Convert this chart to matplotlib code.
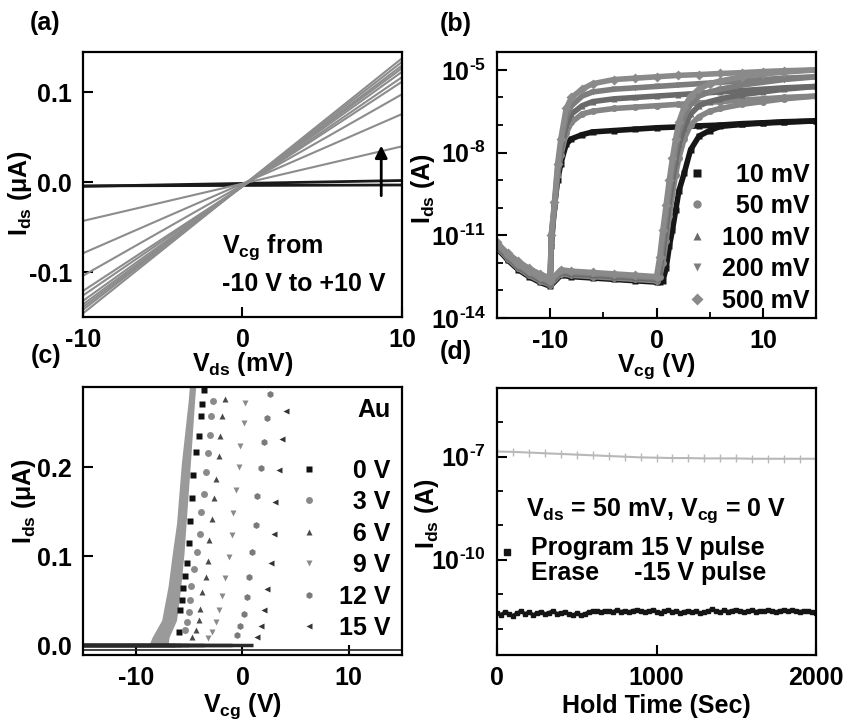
import math
import matplotlib
matplotlib.use('Agg')
import matplotlib.pyplot as plt
from matplotlib.lines import Line2D
from matplotlib.ticker import FixedLocator, FuncFormatter, NullFormatter

plt.rcParams['font.family'] = ['Liberation Sans', 'DejaVu Sans']
plt.rcParams['font.weight'] = 'bold'
plt.rcParams['axes.labelweight'] = 'bold'
plt.rcParams['font.size'] = 18
plt.rcParams['axes.unicode_minus'] = False
plt.rcParams['mathtext.fontset'] = 'custom'
for k in ['rm', 'it', 'bf', 'sf']:
    plt.rcParams['mathtext.' + k] = 'Liberation Sans:bold'
plt.rcParams['mathtext.default'] = 'bf'

# ---------------- data ----------------
# (a) output curves, current (uA) at Vds = -10 mV and +10 mV, one per gate step
a_vds = [-10, 10]
a_i_neg = [-0.0045, -0.004, -0.043, -0.079, -0.104, -0.121, -0.126, -0.132, -0.136, -0.139, -0.142, -0.146]
a_i_pos = [0.002, -0.003, 0.040, 0.076, 0.098, 0.112, 0.117, 0.123, 0.127, 0.130, 0.134, 0.138]
a_dark = [True, True, False, False, False, False, False, False, False, False, False, False]

# (b) transfer curves, log10(Ids / A)
b_labels = ['10 mV', '50 mV', '100 mV', '200 mV', '500 mV']
fwd_vcg = [-15, -14, -13, -12, -11, -10, -9, -8, -6, -4, -2, 0, 0.3, 0.6, 0.9, 1.2, 1.5, 1.8,
           2.1, 2.6, 3.2, 4.0, 5.0, 6.0, 8.0, 10.0, 12.0, 15.0]
fwd_log = {
    '10 mV': [-11.45, -11.9, -12.25, -12.5, -12.7, -12.85, -12.45, -12.5, -12.55, -12.6, -12.65, -12.7,
              -12.7, -12.65, -12.2, -11.4, -10.8, -10.1, -9.4, -8.75, -7.9, -7.4, -7.2, -7.05, -6.98,
              -6.93, -6.9, -6.85],
    '50 mV': [-11.4, -11.85, -12.2, -12.45, -12.65, -12.8, -12.4, -12.45, -12.5, -12.55, -12.6, -12.65,
              -12.5, -12.0, -11.2, -10.3, -9.5, -8.8, -8.2, -7.5, -7.0, -6.7, -6.5, -6.4, -6.25,
              -6.15, -6.05, -5.95],
    '100 mV': [-11.35, -11.8, -12.15, -12.4, -12.6, -12.75, -12.35, -12.4, -12.45, -12.5, -12.55, -12.6,
               -12.3, -11.6, -10.7, -9.8, -9.0, -8.3, -7.7, -7.1, -6.6, -6.3, -6.15, -6.05, -5.9,
               -5.8, -5.7, -5.6],
    '200 mV': [-11.3, -11.75, -12.1, -12.35, -12.55, -12.7, -12.3, -12.35, -12.4, -12.45, -12.5, -12.55,
               -12.1, -11.2, -10.3, -9.4, -8.6, -7.9, -7.3, -6.7, -6.25, -5.95, -5.8, -5.7, -5.55,
               -5.45, -5.35, -5.25],
    '500 mV': [-11.25, -11.7, -12.05, -12.3, -12.5, -12.65, -12.25, -12.3, -12.35, -12.4, -12.45, -12.5,
               -11.8, -10.8, -9.9, -9.0, -8.2, -7.5, -6.9, -6.35, -5.95, -5.7, -5.5, -5.4, -5.25,
               -5.15, -5.08, -5.0],
}
rev_vcg = [15, 12, 10, 8, 6, 4, 2, 0, -2, -4, -6, -7, -8, -8.5, -9, -9.3, -9.6, -9.9, -10,
           -11, -12, -13, -14, -15]
rev_log = {
    '10 mV': [-6.85, -6.88, -6.92, -6.95, -7.0, -7.03, -7.07, -7.1, -7.15, -7.2, -7.25, -7.35, -7.5,
              -7.7, -8.4, -9.0, -9.95, -11.4, -12.75, -12.6, -12.4, -12.15, -11.85, -11.5],
    '50 mV': [-5.95, -6.0, -6.05, -6.1, -6.15, -6.2, -6.25, -6.3, -6.35, -6.4, -6.5, -6.6, -6.9,
              -7.3, -8.1, -8.8, -10.0, -11.2, -12.7, -12.55, -12.35, -12.1, -11.8, -11.45],
    '100 mV': [-5.6, -5.65, -5.7, -5.75, -5.8, -5.85, -5.9, -5.95, -6.0, -6.05, -6.15, -6.3, -6.6,
               -7.0, -7.9, -8.7, -10.0, -11.1, -12.65, -12.5, -12.3, -12.05, -11.75, -11.4],
    '200 mV': [-5.25, -5.3, -5.35, -5.4, -5.45, -5.5, -5.55, -5.6, -5.65, -5.7, -5.8, -5.95, -6.3,
               -6.7, -7.7, -8.6, -9.9, -11.0, -12.6, -12.45, -12.25, -12.0, -11.7, -11.35],
    '500 mV': [-5.0, -5.03, -5.06, -5.1, -5.13, -5.17, -5.2, -5.25, -5.3, -5.35, -5.5, -5.7, -6.0,
               -6.4, -7.5, -8.4, -9.8, -11.0, -12.55, -12.4, -12.2, -11.95, -11.65, -11.3],
}
b_markers = ['s', 'o', '^', 'v', 'D']
b_colors = ['#161616', '#858585', '#6a6a6a', '#7d7d7d', '#8a8a8a']

# (c) linear transfer curves after program pulses (Ids in uA)
c_labels = ['0 V', '3 V', '6 V', '9 V', '12 V', '15 V']
c_vth = [-6.3, -5.8, -5.0, -3.6, -1.0, 1.0]
c_vcg = [
    [-6.0, -5.9, -5.7, -5.55, -5.4, -5.2, -5.05, -4.9, -4.75, -4.65, -4.35, -4.1, -3.9, -3.8, -3.65],
    [-5.4, -5.2, -5.06, -4.97, -4.84, -4.6, -4.28, -4.03, -3.9, -3.65, -3.4, -3.27, -3.08, -3.0, -2.77],
    [-4.75, -4.4, -4.1, -3.96, -3.8, -3.4, -3.27, -3.18, -2.86, -2.64, -2.45, -2.23, -2.08, -1.92, -1.6],
    [-3.2, -2.86, -2.45, -2.23, -1.92, -1.6, -1.29, -0.97, -0.88, -0.57, -0.35, -0.19, 0.12, 0.28],
    [-0.5, -0.19, 0.12, 0.38, 0.6, 0.91, 1.23, 1.39, 1.7, 2.0, 2.26, 2.58],
    [1.39, 1.7, 2.0, 2.33, 2.64, 2.95, 3.1, 3.43, 3.74, 4.06],
]
c_ids = [
    [0.015, 0.039, 0.051, 0.064, 0.078, 0.092, 0.115, 0.14, 0.165, 0.191, 0.217, 0.235, 0.257, 0.271, 0.287],
    [0.017, 0.026, 0.037, 0.051, 0.067, 0.085, 0.105, 0.125, 0.149, 0.170, 0.194, 0.216, 0.236, 0.257, 0.274],
    [0.009, 0.017, 0.028, 0.041, 0.060, 0.076, 0.095, 0.118, 0.142, 0.165, 0.187, 0.212, 0.235, 0.257, 0.277],
    [0.0075, 0.015, 0.026, 0.039, 0.055, 0.075, 0.099, 0.124, 0.148, 0.174, 0.200, 0.224, 0.250, 0.272],
    [0.011, 0.021, 0.035, 0.054, 0.077, 0.105, 0.135, 0.167, 0.199, 0.228, 0.255, 0.282],
    [0.009, 0.021, 0.039, 0.063, 0.092, 0.125, 0.161, 0.197, 0.231, 0.263],
]
c_markers = ['s', 'o', '^', 'v', 'h', '<']
c_colors = ['#111111', '#8a8a8a', '#4a4a4a', '#8a8a8a', '#7a7a7a', '#333333']
# dense unprogrammed sweep band: current level, left and right edge (V)
band_ids = [0.0, 0.009, 0.028, 0.066, 0.103, 0.137, 0.204, 0.275, 0.29]
band_left = [-8.8, -8.5, -7.6, -7.0, -6.6, -6.2, -5.75, -5.1, -5.0]
band_right = [-7.0, -6.9, -6.2, -5.8, -5.5, -5.3, -4.9, -4.5, -4.4]
base_vcg = [-15, 15]
base_ids = [-0.0056, -0.0056]

# (d) retention, log10(Ids / A)
prog_t = [0, 100, 200, 300, 400, 500, 600, 700, 800, 900, 1000, 1100, 1200, 1300, 1400, 1500,
          1600, 1700, 1800, 1900, 2000]
prog_log = [-6.85, -6.86, -6.88, -6.9, -6.92, -6.94, -6.96, -6.98, -7.0, -7.02, -7.03, -7.04,
            -7.04, -7.05, -7.05, -7.05, -7.06, -7.06, -7.06, -7.06, -7.06]
erase_t = [25 * k for k in range(81)]
erase_log = [
    -11.55, -11.60, -11.52, -11.58, -11.63, -11.55, -11.50, -11.57, -11.53, -11.60,
    -11.56, -11.51, -11.58, -11.54, -11.49, -11.57, -11.55, -11.52, -11.58, -11.61,
    -11.56, -11.62, -11.58, -11.52, -11.50, -11.49, -11.53, -11.48, -11.50, -11.52,
    -11.47, -11.51, -11.49, -11.53, -11.48, -11.46, -11.50, -11.52, -11.49, -11.47,
    -11.51, -11.55, -11.50, -11.46, -11.52, -11.49, -11.55, -11.51, -11.48, -11.53,
    -11.50, -11.56, -11.52, -11.49, -11.44, -11.50, -11.53, -11.47, -11.51, -11.48,
    -11.45, -11.50, -11.53, -11.49, -11.47, -11.51, -11.48, -11.50, -11.46, -11.49,
    -11.52, -11.48, -11.47, -11.50, -11.46, -11.49, -11.51, -11.48, -11.50, -11.53, -11.55]
erase_start_t = [60]
erase_start_log = [-9.77]


def style(ax):
    for s in ax.spines.values():
        s.set_linewidth(1.6)
    ax.tick_params(which='major', direction='in', length=7, width=1.5, pad=8)
    ax.tick_params(which='minor', direction='in', length=4, width=1.3)
    ax.tick_params(axis='x', which='major', pad=8)


def log_labels(keep):
    def f(v, pos):
        e = int(round(math.log10(v)))
        if e not in keep:
            return ''
        return r'$10^{\text{-}%d}$' % abs(e)
    return FuncFormatter(f)


fig = plt.figure(figsize=(8.45, 7.23), dpi=100)
ax_a = fig.add_axes([0.0982, 0.5615, 0.3775, 0.3665])
ax_b = fig.add_axes([0.5882, 0.5602, 0.3775, 0.3679])
ax_c = fig.add_axes([0.0982, 0.0941, 0.3775, 0.3707])
ax_d = fig.add_axes([0.5882, 0.0941, 0.3775, 0.3693])

# ---- (a)
for n, p, dark in zip(a_i_neg, a_i_pos, a_dark):
    ax_a.plot(a_vds, [n, p], color='#1a1a1a' if dark else '#8c8c8c', lw=2.0 if dark else 1.5)
ax_a.annotate('', xy=(8.7, 0.044), xytext=(8.7, -0.018),
              arrowprops=dict(arrowstyle='-|>', color='black', lw=2, mutation_scale=18))
ax_a.text(-1.3, -0.072, r'V$_{\mathbf{cg}}$ from', ha='left', va='center')
ax_a.text(-1.3, -0.113, '-10 V to +10 V', ha='left', va='center')
ax_a.set_xlim(-10, 10)
ax_a.set_ylim(-0.15, 0.145)
ax_a.xaxis.set_major_locator(FixedLocator([-10, 0, 10]))
ax_a.yaxis.set_major_locator(FixedLocator([-0.1, 0.0, 0.1]))
ax_a.yaxis.set_major_formatter(FuncFormatter(lambda v, p: '%.1f' % v if abs(v) > 1e-9 else '0.0'))
ax_a.set_xlabel(r'V$_{\mathbf{ds}}$ (mV)')
ax_a.set_ylabel(r'I$_{\mathbf{ds}}$ ($\mu$A)')
ax_a.xaxis.set_label_coords(0.5, -0.125)
ax_a.yaxis.set_label_coords(-0.152, 0.468)
style(ax_a)

# ---- (b)
for lab, mk, col in zip(b_labels, b_markers, b_colors):
    fy = [10.0 ** v for v in fwd_log[lab]]
    ry = [10.0 ** v for v in rev_log[lab]]
    for xs, ys in [(fwd_vcg, fy), (rev_vcg, ry)]:
        ax_b.plot(xs, ys, color=col, lw=4, marker=mk, ms=5, mec='none')
ax_b.set_yscale('log')
ax_b.set_xlim(-15, 15)
ax_b.set_ylim(1e-14, 10 ** -4.35)
ax_b.yaxis.set_major_locator(FixedLocator([1e-14, 1e-11, 1e-8, 1e-5]))
ax_b.yaxis.set_major_formatter(log_labels([-5, -8, -11, -14]))
ax_b.yaxis.set_minor_locator(FixedLocator([10.0 ** k for k in range(-13, -4) if k not in (-11, -8, -5)]))
ax_b.yaxis.set_minor_formatter(NullFormatter())
ax_b.xaxis.set_major_locator(FixedLocator([-10, 0, 10]))
ax_b.xaxis.set_minor_locator(FixedLocator([-5, 5]))
handles = [Line2D([], [], ls='none', marker=m, color=c, ms=6, mec='none') for m, c in zip(b_markers, b_colors)]
labels_b = ['\u2007' + l if len(l) < 6 else l for l in b_labels]
ax_b.legend(handles, labels_b, loc='lower right', bbox_to_anchor=(0.98, 0.02), frameon=False,
            handlelength=0.6, handletextpad=0.7, labelspacing=0.3, borderpad=0, borderaxespad=0)
ax_b.set_xlabel(r'V$_{\mathbf{cg}}$ (V)')
ax_b.set_ylabel(r'I$_{\mathbf{ds}}$ (A)')
ax_b.xaxis.set_label_coords(0.5, -0.125)
ax_b.yaxis.set_label_coords(-0.188, 0.487)
style(ax_b)

# ---- (c)
ax_c.plot(base_vcg, base_ids, color='#222222', lw=1.2)
ax_c.fill_betweenx(band_ids, band_left, band_right, color='#9a9a9a', lw=0)
for vth, col in zip(c_vth, c_colors):
    ax_c.hlines(0.0, -15, vth, color='#2a2a2a', lw=2.5)
for xs, ys, mk, col in zip(c_vcg, c_ids, c_markers, c_colors):
    ax_c.plot(xs, ys, ls='none', marker=mk, ms=5, color=col, mec='none')
ax_c.set_xlim(-15, 15)
ax_c.set_ylim(-0.011, 0.29)
ax_c.xaxis.set_major_locator(FixedLocator([-10, 0, 10]))
ax_c.yaxis.set_major_locator(FixedLocator([0.0, 0.1, 0.2]))
ax_c.yaxis.set_major_formatter(FuncFormatter(lambda v, p: '%.1f' % v))
handles = [Line2D([], [], ls='none', marker=m, color=c, ms=5, mec='none') for m, c in zip(c_markers, c_colors)]
labels_c = ['\u2007' + l if len(l) < 4 else l for l in c_labels]
ax_c.legend(handles, labels_c, loc='lower right', bbox_to_anchor=(0.965, 0.055), frameon=False,
            handlelength=0.6, handletextpad=0.9, labelspacing=0.3, borderpad=0, borderaxespad=0)
ax_c.text(0.965, 0.914, 'Au', transform=ax_c.transAxes, ha='right', va='center')
ax_c.set_xlabel(r'V$_{\mathbf{cg}}$ (V)')
ax_c.set_ylabel(r'I$_{\mathbf{ds}}$ ($\mu$A)')
ax_c.xaxis.set_label_coords(0.5, -0.135)
ax_c.yaxis.set_label_coords(-0.141, 0.575)
style(ax_c)

# ---- (d)
ax_d.plot(prog_t, [10.0 ** v for v in prog_log], color='#b8b8b8', lw=1.5, marker='|', ms=6, mew=1.0)
ax_d.plot(erase_t, [10.0 ** v for v in erase_log], color='#151515', lw=2.5, marker='s', ms=2.5)
ax_d.plot(erase_start_t, [10.0 ** v for v in erase_start_log], ls='none', marker='s', ms=5, color='#151515')
ax_d.set_yscale('log')
ax_d.set_xlim(0, 2000)
ax_d.set_ylim(10 ** -12.77, 1e-5)
ax_d.yaxis.set_major_locator(FixedLocator([1e-10, 1e-7]))
ax_d.yaxis.set_major_formatter(log_labels([-7, -10]))
ax_d.yaxis.set_minor_locator(FixedLocator([10.0 ** k for k in (-12, -11, -9, -8, -6)]))
ax_d.yaxis.set_minor_formatter(NullFormatter())
ax_d.xaxis.set_major_locator(FixedLocator([0, 1000, 2000]))
ax_d.text(0.09, 0.54, r'V$_{\mathbf{ds}}$ = 50 mV, V$_{\mathbf{cg}}$ = 0 V', transform=ax_d.transAxes,
          ha='left', va='center')
ax_d.text(0.105, 0.40, 'Program 15 V pulse', transform=ax_d.transAxes, ha='left', va='center')
ax_d.text(0.105, 0.307, 'Erase     -15 V pulse', transform=ax_d.transAxes, ha='left', va='center')
ax_d.set_xlabel('Hold Time (Sec)')
ax_d.set_ylabel(r'I$_{\mathbf{ds}}$ (A)')
ax_d.xaxis.set_label_coords(0.5, -0.145)
ax_d.yaxis.set_label_coords(-0.175, 0.53)
style(ax_d)

for txt, x, y in [('(a)', 45, 23), ('(b)', 456, 24), ('(c)', 46, 356), ('(d)', 456, 352)]:
    fig.text(x / 845, 1 - y / 723, txt, ha='center', va='center')

fig.savefig('out.png', dpi=100)
